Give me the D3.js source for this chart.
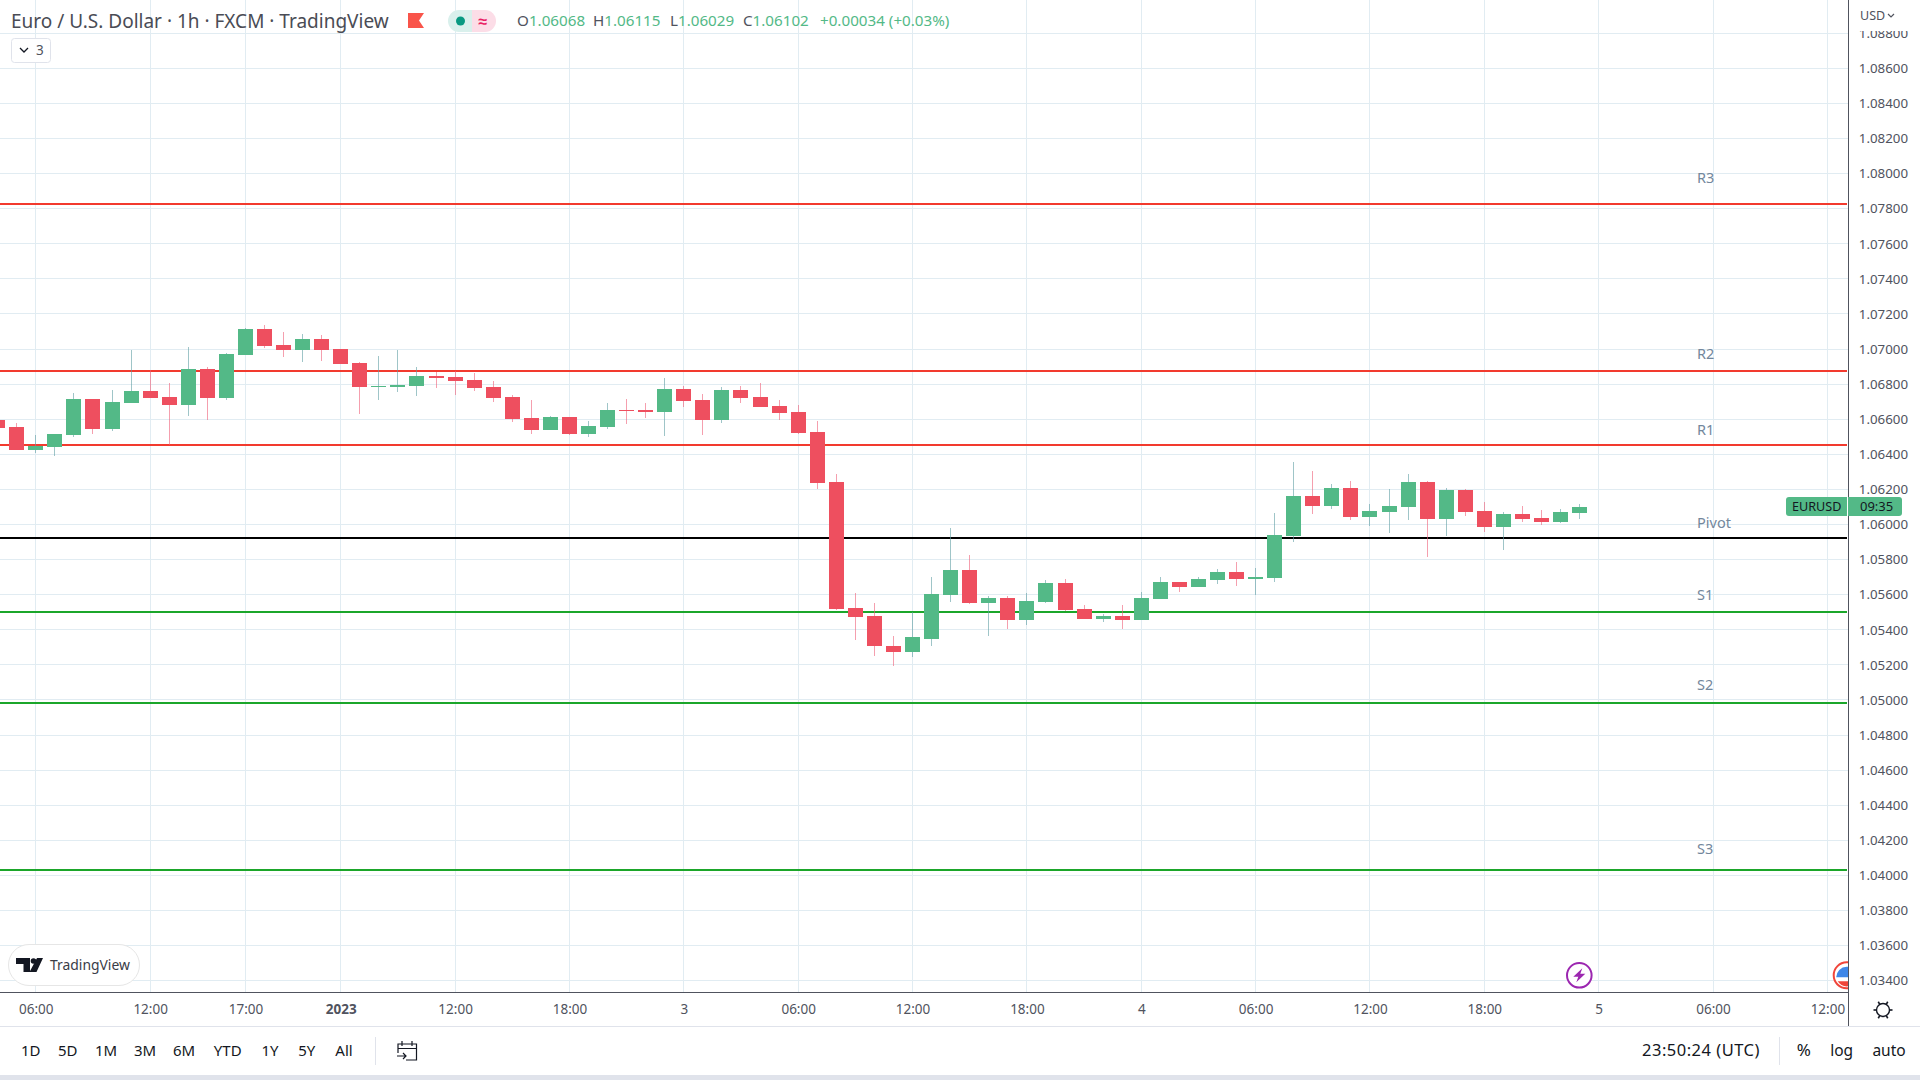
<!DOCTYPE html>
<html>
<head>
<meta charset="utf-8">
<script src="https://d3js.org/d3.v7.min.js"></script>
<style>
  html, body { margin: 0; padding: 0; background: #fff; }
  text { font-family: "Noto Sans", sans-serif; }
</style>
</head>
<body>
<script>
// hourly bars, the number is hours counted from the first 06:00 gridline
var barHour = d3.range(-2, 82);

var barOpen = [1.06596,1.06556,1.06425,1.06442,1.06510,1.06716,1.06545,1.06693,1.06762,1.06728,
  1.06682,1.06888,1.06722,1.06968,1.07116,1.07025,1.06996,1.07059,1.07002,1.06922,
  1.06785,1.06785,1.06791,1.06848,1.06842,1.06825,1.06785,1.06728,1.06608,1.06539,
  1.06613,1.06516,1.06556,1.06653,1.06653,1.06642,1.06773,1.06711,1.06596,1.06768,
  1.06728,1.06676,1.06642,1.06528,1.06242,1.05522,1.05476,1.05310,1.05276,1.05350,
  1.05596,1.05739,1.05550,1.05579,1.05453,1.05556,1.05665,1.05516,1.05459,1.05476,
  1.05453,1.05573,1.05670,1.05642,1.05682,1.05728,1.05688,1.05693,1.05933,1.06162,
  1.06105,1.06208,1.06042,1.06070,1.06099,1.06242,1.06030,1.06196,1.06076,1.05985,
  1.06059,1.06036,1.06013,1.06068];

var barHigh = [1.06602,1.06579,1.06510,1.06516,1.06751,1.06716,1.06768,1.06996,1.06882,1.06808,
  1.07013,1.06899,1.06979,1.07122,1.07139,1.07099,1.07088,1.07082,1.07002,1.06928,
  1.06962,1.06996,1.06899,1.06871,1.06876,1.06865,1.06819,1.06739,1.06711,1.06619,
  1.06613,1.06591,1.06693,1.06716,1.06693,1.06836,1.06791,1.06745,1.06785,1.06791,
  1.06808,1.06711,1.06682,1.06591,1.06288,1.05608,1.05550,1.05362,1.05499,1.05699,
  1.05979,1.05825,1.05590,1.05590,1.05608,1.05682,1.05688,1.05539,1.05488,1.05539,
  1.05613,1.05699,1.05670,1.05699,1.05745,1.05785,1.05750,1.06065,1.06356,1.06305,
  1.06230,1.06248,1.06116,1.06202,1.06288,1.06248,1.06208,1.06202,1.06128,1.06070,
  1.06105,1.06082,1.06088,1.06115];

var barLow = [1.06547,1.06425,1.06408,1.06390,1.06499,1.06516,1.06533,1.06693,1.06722,1.06453,
  1.06619,1.06596,1.06711,1.06968,1.07008,1.06956,1.06928,1.06933,1.06916,1.06631,
  1.06711,1.06756,1.06733,1.06779,1.06739,1.06762,1.06699,1.06585,1.06516,1.06539,
  1.06510,1.06499,1.06545,1.06573,1.06608,1.06505,1.06671,1.06510,1.06579,1.06693,
  1.06671,1.06596,1.06516,1.06202,1.05510,1.05339,1.05253,1.05196,1.05242,1.05305,
  1.05556,1.05545,1.05367,1.05402,1.05430,1.05550,1.05505,1.05459,1.05447,1.05402,
  1.05453,1.05573,1.05613,1.05642,1.05659,1.05648,1.05596,1.05670,1.05899,1.06059,
  1.06088,1.06025,1.05990,1.05950,1.06025,1.05813,1.05933,1.06048,1.05956,1.05853,
  1.06013,1.05996,1.06008,1.06029];

var barClose = [1.06550,1.06425,1.06448,1.06516,1.06716,1.06545,1.06699,1.06762,1.06722,1.06682,
  1.06888,1.06722,1.06973,1.07116,1.07019,1.06996,1.07059,1.06996,1.06916,1.06785,
  1.06791,1.06796,1.06848,1.06836,1.06819,1.06779,1.06722,1.06602,1.06539,1.06613,
  1.06516,1.06562,1.06653,1.06648,1.06642,1.06773,1.06705,1.06596,1.06768,1.06722,
  1.06671,1.06636,1.06522,1.06236,1.05516,1.05470,1.05305,1.05276,1.05356,1.05602,
  1.05739,1.05550,1.05579,1.05453,1.05562,1.05665,1.05510,1.05459,1.05476,1.05453,
  1.05579,1.05670,1.05642,1.05688,1.05728,1.05688,1.05699,1.05939,1.06162,1.06105,
  1.06208,1.06042,1.06076,1.06105,1.06242,1.06030,1.06196,1.06070,1.05985,1.06059,
  1.06030,1.06013,1.06070,1.06102];

// pivot levels, the labels float at their own height above each line
var levelNames = ['R3', 'R2', 'R1', 'Pivot', 'S1', 'S2', 'S3'];
var levelPrices = [1.07827, 1.06876, 1.06453, 1.05922, 1.05499, 1.04982, 1.04030];
var levelLabelPrices = [1.07974, 1.06971, 1.06538, 1.06007, 1.05597, 1.05087, 1.04153];
var levelColors = ['#f23a2e', '#f23a2e', '#f23a2e', '#000000', '#1ba62a', '#1ba62a', '#1ba62a'];

// axis ticks
var priceTicks = d3.range(1.034, 1.0885, 0.002);
var timeTickHours = [0, 6, 11, 16, 22, 28, 34, 40, 46, 52, 58, 64, 70, 76, 82, 88, 94];
var timeTickLabels = ['06:00', '12:00', '17:00', '2023', '12:00', '18:00', '3', '06:00', '12:00', '18:00', '4', '06:00', '12:00', '18:00', '5', '06:00', '12:00'];

var rangeButtons = ['1D', '5D', '1M', '3M', '6M', 'YTD', '1Y', '5Y', 'All'];
var rangeButtonX = [30.7, 67.7, 106, 145, 184, 227.7, 270, 306.7, 344];

var upColor = '#53b987';
var downColor = '#ee4f5f';
var gridColor = '#e1ecf2';
var axisColor = '#50535e';

var svg_width = 1920;
var svg_height = 1080;
var plot_right = 1848;
var plot_bottom = 992;

var x = d3.scaleLinear().domain([0, 94]).range([35.79, 1827.4]);
var y = d3.scaleLinear().domain([1.034, 1.086]).range([980.7, 68.3]);

// snap to a pixel so the 1px lines stay sharp
var px = function(v) { return Math.floor(v) + 0.5; };

var svg = d3.select('body')
  .append('svg')
  .attr('width', svg_width)
  .attr('height', svg_height)
  .style('display', 'block');

var defs = svg.append('defs');
defs.append('clipPath').attr('id', 'plotClip')
  .append('rect').attr('x', 0).attr('y', 0).attr('width', plot_right).attr('height', plot_bottom);
defs.append('clipPath').attr('id', 'scaleClip')
  .append('rect').attr('x', plot_right).attr('y', 31).attr('width', 72).attr('height', plot_bottom - 31);

var plot = svg.append('g').attr('clip-path', 'url(#plotClip)');

// grid
plot.selectAll('.gridH')
  .data(priceTicks)
  .enter().append('line')
  .attr('x1', 0)
  .attr('x2', plot_right)
  .attr('y1', function(d) { return px(y(d)); })
  .attr('y2', function(d) { return px(y(d)); })
  .attr('stroke', gridColor);

plot.selectAll('.gridV')
  .data(timeTickHours)
  .enter().append('line')
  .attr('x1', function(d) { return px(x(d)); })
  .attr('x2', function(d) { return px(x(d)); })
  .attr('y1', 0)
  .attr('y2', plot_bottom)
  .attr('stroke', gridColor);

// pivot lines
plot.selectAll('.level')
  .data(levelPrices)
  .enter().append('line')
  .attr('x1', 0)
  .attr('x2', plot_right - 1)
  .attr('y1', function(d) { return Math.round(y(d)); })
  .attr('y2', function(d) { return Math.round(y(d)); })
  .attr('stroke', function(d, i) { return levelColors[i]; })
  .attr('stroke-width', 2);

plot.selectAll('.levelName')
  .data(levelNames)
  .enter().append('text')
  .attr('x', 1697)
  .attr('y', function(d, i) { return y(levelLabelPrices[i]); })
  .attr('dy', '0.35em')
  .attr('font-size', 14.5)
  .attr('fill', '#73879c')
  .text(function(d) { return d; });

// candles
var isUp = function(i) { return barClose[i] >= barOpen[i]; };

plot.selectAll('.wick')
  .data(barHour)
  .enter().append('line')
  .attr('x1', function(d) { return px(x(d)); })
  .attr('x2', function(d) { return px(x(d)); })
  .attr('y1', function(d, i) { return Math.round(y(barHigh[i])); })
  .attr('y2', function(d, i) { return Math.round(y(barLow[i])); })
  .attr('stroke', function(d, i) { return isUp(i) ? '#5f9fa3' : '#ee5f78'; })
  .attr('stroke-opacity', 0.6);

plot.selectAll('.body')
  .data(barHour)
  .enter().append('rect')
  .attr('x', function(d) { return px(x(d)) - 7.5; })
  .attr('width', 15)
  .attr('y', function(d, i) { return Math.round(y(Math.max(barOpen[i], barClose[i]))); })
  .attr('height', function(d, i) {
    return Math.max(1, Math.round(y(Math.min(barOpen[i], barClose[i]))) - Math.round(y(Math.max(barOpen[i], barClose[i]))));
  })
  .attr('fill', function(d, i) { return isUp(i) ? upColor : downColor; });

// events on the bottom of the plot
var bolt = plot.append('g').attr('transform', 'translate(1579.3,975.3)');
bolt.append('circle').attr('r', 12.3).attr('fill', '#fff').attr('stroke', '#9c27b0').attr('stroke-width', 2);
bolt.append('path').attr('d', 'M3,-7 L-6,1.5 L-1,1.5 L-3,7 L6,-1.5 L1,-1.5 Z').attr('fill', '#9c27b0');

var flag = plot.append('g').attr('transform', 'translate(1846.7,975.3)');
flag.append('circle').attr('r', 13).attr('fill', '#fff').attr('stroke', '#f0453a').attr('stroke-width', 2);
flag.append('path').attr('d', 'M-10.5,2 A10.5,10.5 0 0 1 10.5,2 Z').attr('fill', '#3f87e8');
flag.append('path').attr('d', 'M-9,6 A10.5,10.5 0 0 0 9,6 Z').attr('fill', '#f0453a');

// tradingview badge
var badge = svg.append('g');
badge.append('rect')
  .attr('x', 8.5).attr('y', 944.5).attr('width', 131).attr('height', 41).attr('rx', 20.5)
  .attr('fill', '#fff').attr('stroke', '#e6e6e6').attr('stroke-width', 1);
badge.append('path')
  .attr('d', 'M16,958 H30 V972 H23.5 V964 H16 Z M37,958 H43 L36.5,972 H29.5 Z')
  .attr('fill', '#131722');
badge.append('circle').attr('cx', 33.5).attr('cy', 961).attr('r', 2.8).attr('fill', '#131722');
badge.append('text')
  .attr('x', 50).attr('y', 965).attr('dy', '0.35em')
  .attr('font-size', 13.9)
  .attr('fill', '#3a3d47')
  .text('TradingView');

// price axis
var priceAxis = svg.append('g')
  .attr('clip-path', 'url(#scaleClip)')
  .append('g')
  .attr('transform', 'translate(1908,0)')
  .call(d3.axisLeft(y).tickValues(priceTicks).tickFormat(d3.format('.5f')).tickSize(0).tickPadding(0));
priceAxis.select('.domain').remove();
priceAxis.selectAll('text')
  .attr('font-size', 13.3)
  .attr('font-family', '"Noto Sans", sans-serif')
  .attr('fill', '#50535e');

// time axis
var timeAxis = svg.append('g')
  .attr('transform', 'translate(0,1009)')
  .call(d3.axisBottom(x)
    .tickValues(timeTickHours)
    .tickFormat(function(d, i) { return timeTickLabels[i]; })
    .tickSize(0).tickPadding(0));
timeAxis.select('.domain').remove();
timeAxis.selectAll('text')
  .attr('dy', '0.35em')
  .attr('font-size', 13.5)
  .attr('font-family', '"Noto Sans", sans-serif')
  .attr('fill', '#50535e')
  .attr('font-weight', function(d, i) { return timeTickLabels[i] === '2023' ? 'bold' : 'normal'; });

// frame lines
svg.append('line').attr('x1', 0).attr('x2', plot_right).attr('y1', plot_bottom + 0.5).attr('y2', plot_bottom + 0.5).attr('stroke', axisColor);
svg.append('line').attr('x1', plot_right + 0.5).attr('x2', plot_right + 0.5).attr('y1', 0).attr('y2', 1026).attr('stroke', axisColor);
svg.append('line').attr('x1', 0).attr('x2', svg_width).attr('y1', 1026.5).attr('y2', 1026.5).attr('stroke', '#e0e3eb');
svg.append('rect').attr('x', 0).attr('y', 1075).attr('width', svg_width).attr('height', 5).attr('fill', '#e0e3eb');

// last price tag
svg.append('rect').attr('x', 1786).attr('y', 497).attr('width', 116).attr('height', 19).attr('rx', 3).attr('fill', upColor);
svg.append('line').attr('x1', 1847.5).attr('x2', 1847.5).attr('y1', 497).attr('y2', 516).attr('stroke', '#fff');
svg.append('text').attr('x', 1792).attr('y', 506.5).attr('dy', '0.35em').attr('font-size', 12.6).attr('fill', '#131722').text('EURUSD');
svg.append('text').attr('x', 1860).attr('y', 506.5).attr('dy', '0.35em').attr('font-size', 13).attr('fill', '#131722').text('09:35');

// header
svg.append('text').attr('x', 11).attr('y', 21).attr('dy', '0.35em').attr('font-size', 19).attr('fill', '#4a4c55')
  .text('Euro / U.S. Dollar · 1h · FXCM · TradingView');
svg.append('path').attr('d', 'M408,13 H424 L419,20.5 L424,28 H408 Z').attr('fill', '#f9544a');

svg.append('path').attr('d', 'M472,10 H459 A11,11 0 0 0 459,32 H472 Z').attr('fill', '#d9f0ec');
svg.append('path').attr('d', 'M472,10 H485 A11,11 0 0 1 485,32 H472 Z').attr('fill', '#fcdde7');
svg.append('circle').attr('cx', 460.5).attr('cy', 21).attr('r', 4.5).attr('fill', '#089981');
svg.append('text').attr('x', 483).attr('y', 21).attr('dy', '0.35em').attr('text-anchor', 'middle').attr('font-size', 16).attr('font-weight', 'bold').attr('fill', '#e91e63').text('≈');

var headerLetters = ['O', 'H', 'L', 'C'];
var headerValues = [barOpen[83], barHigh[83], barLow[83], barClose[83]];
var headerX = [517, 593, 670, 743];
headerLetters.forEach(function(letter, i) {
  var t = svg.append('text').attr('x', headerX[i]).attr('y', 21).attr('dy', '0.35em').attr('font-size', 15.2);
  t.append('tspan').attr('fill', '#50535e').text(letter);
  t.append('tspan').attr('fill', upColor).text(d3.format('.5f')(headerValues[i]));
});
svg.append('text').attr('x', 820).attr('y', 21).attr('dy', '0.35em').attr('font-size', 15.2).attr('fill', upColor)
  .text('+0.00034 (+0.03%)');

// collapsed indicators button
svg.append('rect').attr('x', 11.5).attr('y', 38.5).attr('width', 39).attr('height', 24).attr('rx', 3)
  .attr('fill', '#fff').attr('stroke', '#e0e3eb');
svg.append('path').attr('d', 'M20,48 L24,52 L28,48').attr('fill', 'none').attr('stroke', '#131722').attr('stroke-width', 1.3);
svg.append('text').attr('x', 36).attr('y', 50.5).attr('dy', '0.35em').attr('font-size', 13.5).attr('fill', '#50535e').text('3');

// currency button
svg.append('rect').attr('x', 1849).attr('y', 0).attr('width', 71).attr('height', 29).attr('fill', '#fff');
svg.append('text').attr('x', 1860).attr('y', 16).attr('dy', '0.35em').attr('font-size', 12.5).attr('fill', '#50535e').text('USD');
svg.append('path').attr('d', 'M1888,14 L1891,17 L1894,14').attr('fill', 'none').attr('stroke', '#50535e').attr('stroke-width', 1.2);

// settings gear
var gear = svg.append('g').attr('transform', 'translate(1883,1010)');
gear.append('circle').attr('r', 6.5).attr('fill', 'none').attr('stroke', '#131722').attr('stroke-width', 1.4);
d3.range(0, 6).forEach(function(k) {
  gear.append('line').attr('x1', 0).attr('x2', 0).attr('y1', -6.5).attr('y2', -9.5)
    .attr('transform', 'rotate(' + (30 + k * 60) + ')')
    .attr('stroke', '#131722').attr('stroke-width', 1.6);
});

// bottom toolbar
svg.selectAll('.rangeButton')
  .data(rangeButtons)
  .enter().append('text')
  .attr('x', function(d, i) { return rangeButtonX[i]; })
  .attr('y', 1050.5)
  .attr('dy', '0.35em')
  .attr('text-anchor', 'middle')
  .attr('font-size', 15)
  .attr('fill', '#131722')
  .text(function(d) { return d; });

svg.append('line').attr('x1', 375.5).attr('x2', 375.5).attr('y1', 1037).attr('y2', 1065).attr('stroke', '#e0e3eb');
svg.append('path')
  .attr('d', 'M398,1053 V1044 H416.5 V1060 H406 M398,1048.5 H416.5 M402,1041 V1046 M412,1041 V1046 M397,1056 H406 M403,1053 L406,1056 L403,1059')
  .attr('fill', 'none').attr('stroke', '#131722').attr('stroke-width', 1.2);

svg.append('text').attr('x', 1642).attr('y', 1050.5).attr('dy', '0.35em').attr('font-size', 16.5).attr('letter-spacing', 0.5).attr('fill', '#131722').text('23:50:24 (UTC)');
svg.append('line').attr('x1', 1779.5).attr('x2', 1779.5).attr('y1', 1037).attr('y2', 1065).attr('stroke', '#e0e3eb');
svg.append('text').attr('x', 1803.7).attr('y', 1050.5).attr('dy', '0.35em').attr('text-anchor', 'middle').attr('font-size', 17).attr('fill', '#131722').text('%');
svg.append('text').attr('x', 1841.7).attr('y', 1050.5).attr('dy', '0.35em').attr('text-anchor', 'middle').attr('font-size', 15.5).attr('fill', '#131722').text('log');
svg.append('text').attr('x', 1889).attr('y', 1050.5).attr('dy', '0.35em').attr('text-anchor', 'middle').attr('font-size', 15.5).attr('fill', '#131722').text('auto');
</script>
</body>
</html>
